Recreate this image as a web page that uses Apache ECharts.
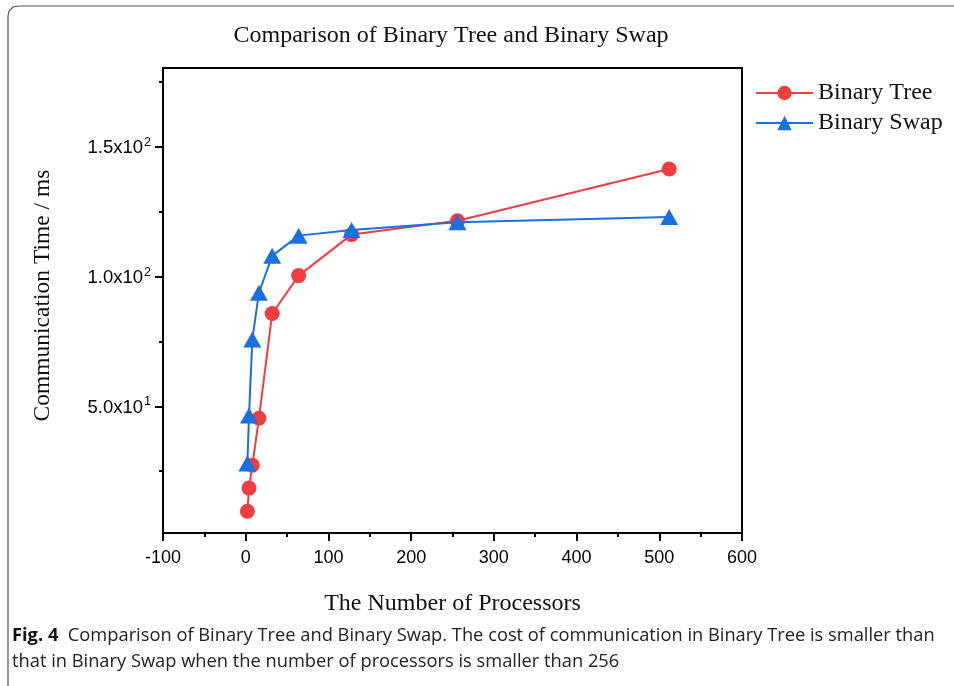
<!DOCTYPE html>
<html>
<head>
<meta charset="utf-8">
<script src="https://cdn.jsdelivr.net/npm/echarts@6/dist/echarts.min.js"></script>
<style>
html,body{margin:0;padding:0;background:#fff;}
#chart{width:954px;height:686px;}
</style>
</head>
<body>
<div id="chart"></div>
<script>
// ---- data ----
const processors = [2, 4, 8, 16, 32, 64, 128, 256, 512];
const binaryTree = [9.6, 18.5, 27.3, 45.4, 85.8, 100.4, 116.2, 121.5, 141.5];
const binarySwap = [28.0, 46.5, 75.8, 93.8, 108.0, 115.8, 118.0, 121.0, 123.0];
const seriesNames = ['Binary Tree', 'Binary Swap'];
const yMajorTicks = [50, 100, 150];
const yMinorTicks = [25, 75, 125, 175];
const yTickMantissa = ['5.0', '1.0', '1.5'];
const yTickExponent = ['1', '2', '2'];
const titleText = 'Comparison of Binary Tree and Binary Swap';
const xAxisTitle = 'The Number of Processors';
const yAxisTitle = 'Communication Time / ms';
const captionBold = 'Fig. 4';
const captionLine1 = 'Comparison of Binary Tree and Binary Swap. The cost of communication in Binary Tree is smaller than';
const captionLine2 = 'that in Binary Swap when the number of processors is smaller than 256';

const RED = '#EF3E42';
const BLUE = '#1B6FDE';
const serif = '"Liberation Serif", "Times New Roman", serif';
const sans = '"Liberation Sans", Arial, sans-serif';
const capFont = '"Open Sans", "Noto Sans", sans-serif';

const chart = echarts.init(document.getElementById('chart'), null, {renderer: 'canvas'});

function pairs(xs, ys) { return xs.map((x, i) => [x, ys[i]]); }

const yLabelFormatter = function (v) {
  const i = yMajorTicks.indexOf(Math.round(v));
  if (i < 0) return '';
  return '{m|' + yTickMantissa[i] + 'x10}{s|' + yTickExponent[i] + '}';
};

const option = {
  backgroundColor: '#fff',
  animation: false,
  title: {
    text: titleText,
    left: 446, top: 19, textAlign: 'center',
    textStyle: {fontFamily: serif, fontSize: 24, fontWeight: 'normal', color: '#111'}
  },
  legend: {
    orient: 'vertical',
    left: 750, top: 73,
    itemWidth: 57, itemHeight: 18, itemGap: 0,
    data: seriesNames,
    textStyle: {fontFamily: serif, fontSize: 24, color: '#111', lineHeight: 30}
  },
  grid: {left: 163, right: 212, top: 68, bottom: 153, show: true, borderColor: '#000', borderWidth: 2, backgroundColor: 'transparent'},
  xAxis: {
    type: 'value', min: -100, max: 600, interval: 100,
    name: xAxisTitle, nameLocation: 'middle', nameGap: 59,
    nameTextStyle: {fontFamily: serif, fontSize: 24, color: '#111'},
    axisLine: {show: true, onZero: false, lineStyle: {color: '#000', width: 2}},
    axisTick: {show: true, length: 8, lineStyle: {color: '#000', width: 2}},
    minorTick: {show: true, splitNumber: 2, length: 4, lineStyle: {color: '#000', width: 2}},
    splitLine: {show: false},
    axisLabel: {fontFamily: sans, fontSize: 18, color: '#000', margin: 16}
  },
  yAxis: [{
    type: 'value', min: 1.2, max: 180.4,
    name: yAxisTitle, nameLocation: 'middle', nameGap: 108, nameRotate: 90,
    nameTextStyle: {fontFamily: serif, fontSize: 23.5, color: '#111', padding: [0, 0, 0, 10]},
    axisLine: {show: true, onZero: false, lineStyle: {color: '#000', width: 2}},
    axisTick: {show: true, length: 8, customValues: yMajorTicks, lineStyle: {color: '#000', width: 2}},
    splitLine: {show: false},
    axisLabel: {
      customValues: yMajorTicks, margin: 12, formatter: yLabelFormatter,
      rich: {
        m: {fontFamily: sans, fontSize: 18.5, color: '#000', lineHeight: 22, verticalAlign: 'bottom'},
        s: {fontFamily: sans, fontSize: 12.5, color: '#000', lineHeight: 22, verticalAlign: 'top', padding: [0, 0, 12, 1]}
      }
    }
  }, {
    type: 'value', min: 1.2, max: 180.4, position: 'left',
    axisLine: {show: false, onZero: false},
    axisTick: {show: true, length: 4, customValues: yMinorTicks, lineStyle: {color: '#000', width: 2}},
    axisLabel: {show: false},
    splitLine: {show: false}
  }],
  series: [{
    name: seriesNames[0], type: 'line', data: pairs(processors, binaryTree),
    symbol: 'circle', symbolSize: 15, color: RED,
    lineStyle: {color: RED, width: 2}, itemStyle: {color: RED}, z: 2
  }, {
    name: seriesNames[1], type: 'line', data: pairs(processors, binarySwap),
    symbol: 'triangle', symbolSize: [18, 16], color: BLUE,
    lineStyle: {color: BLUE, width: 2}, itemStyle: {color: BLUE}, z: 3
  }],
  graphic: [{
    type: 'polyline', silent: true,
    shape: {points: [[8, 686], [8, 16], [9, 11], [13, 7], [19, 6], [954, 6]]},
    style: {stroke: '#555', lineWidth: 1.2, fill: null}
  }, {
    type: 'text', left: 12, top: 627,
    style: {
      text: '{b|' + captionBold + '}{n|  ' + captionLine1 + '}',
      rich: {
        b: {fontFamily: capFont, fontSize: 18.3, fontWeight: 'bold', fill: '#111'},
        n: {fontFamily: capFont, fontSize: 18.3, fill: '#222'}
      }
    }
  }, {
    type: 'text', left: 12, top: 653,
    style: {text: captionLine2, fontFamily: capFont, fontSize: 18.3, fill: '#222'}
  }]
};
chart.setOption(option);
</script>
</body>
</html>
